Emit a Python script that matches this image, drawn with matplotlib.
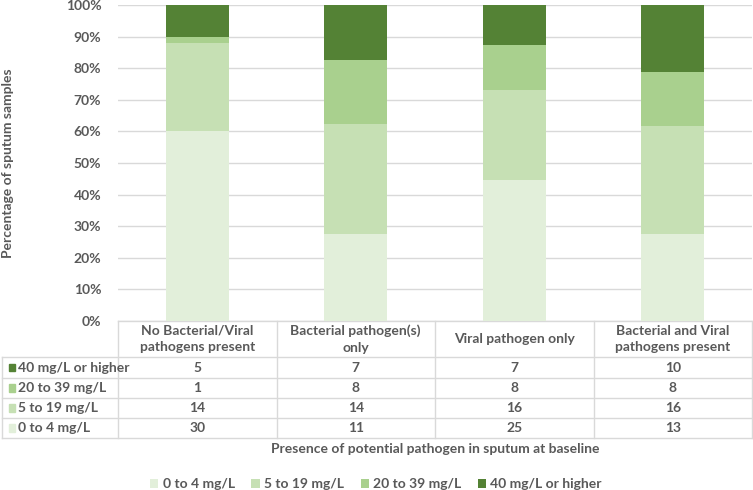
import matplotlib.pyplot as plt
import numpy as np
from matplotlib.lines import Line2D
from matplotlib.patches import Patch
import matplotlib.transforms as mtransforms

plt.rcParams['font.family'] = ['Lato', 'DejaVu Sans']

groups = ["No Bacterial/Viral\npathogens present", "Bacterial pathogen(s)\nonly",
          "Viral pathogen only", "Bacterial and Viral\npathogens present"]
levels = ["0 to 4 mg/L", "5 to 19 mg/L", "20 to 39 mg/L", "40 mg/L or higher"]
counts_0_4 = [30, 11, 25, 13]
counts_5_19 = [14, 14, 16, 16]
counts_20_39 = [1, 8, 8, 8]
counts_40 = [5, 7, 7, 10]
colors = ["#e2efda", "#c6e0b4", "#a9d08e", "#548235"]

txt = "#595959"
grid = "#d9d9d9"
fs = 10

W, H = 753, 490
fig = plt.figure(figsize=(W / 100, H / 100), dpi=100)
ax = fig.add_axes([118 / W, 1 - 321 / H, (752 - 118) / W, (321 - 5) / H])

series = [counts_0_4, counts_5_19, counts_20_39, counts_40]
data = np.array(series, dtype=float)
pct = data / data.sum(axis=0) * 100
x = np.arange(len(groups))
bottom = np.zeros(len(groups))
for i, lab in enumerate(levels):
    ax.bar(x, pct[i], 0.4, bottom=bottom, color=colors[i], label=lab, zorder=3)
    bottom += pct[i]

ax.set_xlim(-0.5, len(groups) - 0.5)
ax.set_ylim(0, 100)
ax.set_yticks(np.arange(0, 101, 10))
ax.set_yticklabels([f"{v}%" for v in range(0, 101, 10)])
ax.tick_params(axis='y', length=0, pad=12, labelsize=fs, labelcolor=txt)
ax.tick_params(axis='x', length=0, labelbottom=False)
for lab in ax.get_yticklabels():
    lab.set_fontweight('bold')
ax.yaxis.grid(True, color=grid, lw=1, zorder=0)
for s in ax.spines.values():
    s.set_visible(False)

# data table under the plot
ax_h = 321 - 5
def yfrac(px):
    return -(px - 321) / ax_h

trans = mtransforms.blended_transform_factory(ax.transData, ax.transAxes)
rows_px = [321, 357, 378, 398, 418, 438]
col_edges = list(np.arange(len(groups) + 1) - 0.5)
x_left_edge = ax.transData.inverted().transform(fig.transFigure.transform((2 / W, 0)))[0]

ax.add_line(Line2D([-0.5, 3.5], [yfrac(321)] * 2, transform=trans, color=grid, lw=1, clip_on=False))
for ypx in rows_px[1:]:
    ax.add_line(Line2D([x_left_edge, 3.5], [yfrac(ypx)] * 2, transform=trans,
                       color=grid, lw=1, clip_on=False))
for ce in col_edges:
    ax.add_line(Line2D([ce, ce], [yfrac(321), yfrac(438)], transform=trans,
                       color=grid, lw=1, clip_on=False))
ax.add_line(Line2D([x_left_edge, x_left_edge], [yfrac(357), yfrac(438)], transform=trans,
                   color=grid, lw=1, clip_on=False))

for i, g in enumerate(groups):
    ax.text(x[i], yfrac(339), g, transform=trans, ha='center', va='center',
            fontsize=fs, color=txt, fontweight='bold', linespacing=1.45)

row_order = [3, 2, 1, 0]
for r, li in enumerate(row_order):
    yc = yfrac((rows_px[r + 1] + rows_px[r + 2]) / 2)
    ax.add_patch(plt.Rectangle((x_left_edge + 0.045, yc - 0.012), 0.04, 0.024,
                               transform=trans, color=colors[li], clip_on=False))
    ax.text(x_left_edge + 0.1, yc, levels[li], transform=trans, ha='left', va='center',
            fontsize=fs, color=txt, fontweight='bold')
    for i in range(len(groups)):
        ax.text(x[i], yc, str(series[li][i]), transform=trans, ha='center', va='center',
                fontsize=fs, color=txt, fontweight='bold')

fig.text(435 / W, 1 - 449 / H, "Presence of potential pathogen in sputum at baseline",
         ha='center', va='center', fontsize=fs, color=txt, fontweight='bold')
fig.text(8 / W, 1 - 163 / H, "Percentage of sputum samples", rotation=90,
         ha='center', va='center', fontsize=fs, color=txt, fontweight='bold')

handles = [Patch(facecolor=c, label=l) for c, l in zip(colors, levels)]
leg = fig.legend(handles=handles, loc='center', bbox_to_anchor=(376 / W, 1 - 484 / H),
                 ncol=4, frameon=False, fontsize=fs, handlelength=0.6, handleheight=0.6,
                 handletextpad=0.3, columnspacing=1.2)
for t in leg.get_texts():
    t.set_color(txt)
    t.set_fontweight('bold')

fig.savefig("out.png", dpi=100)
